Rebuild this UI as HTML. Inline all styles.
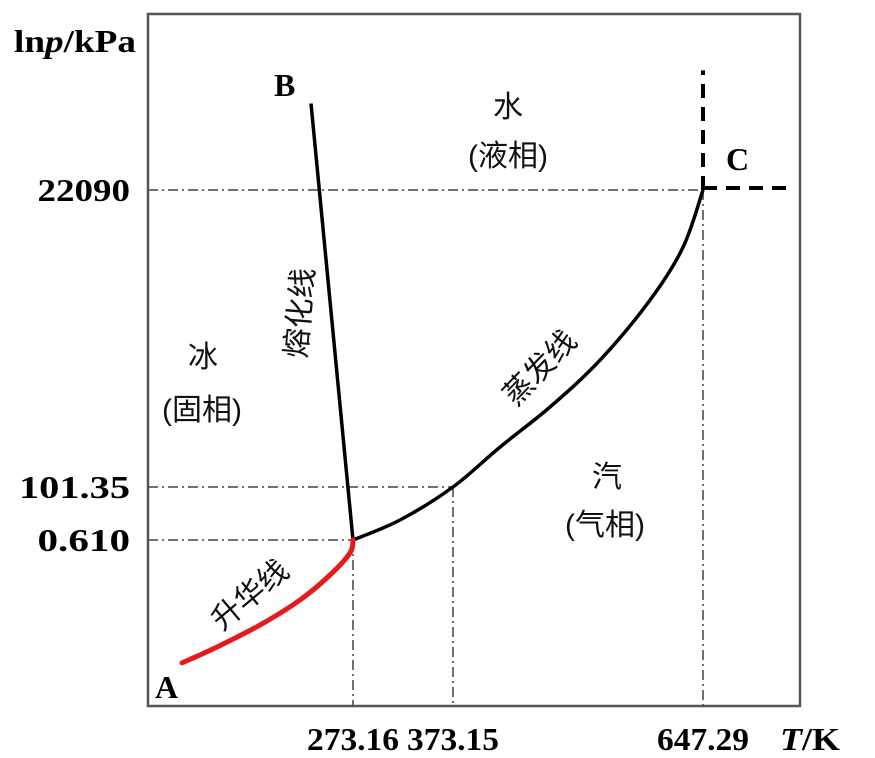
<!DOCTYPE html>
<html><head><meta charset="utf-8"><style>
html,body{margin:0;padding:0;background:#fff;}
svg{display:block;}
.num{font-family:"Liberation Serif",serif;font-weight:bold;font-size:32px;fill:#000;}
.cjk{font-family:"Liberation Sans","Noto Sans CJK SC",sans-serif;font-size:30px;fill:#111;}
</style></head><body>
<svg id="chart" width="875" height="758" viewBox="0 0 875 758">
<rect x="148" y="14" width="652" height="692" fill="none" stroke="#555" stroke-width="2.5"/>
<g id="guides"></g>
<g id="curves"></g>
<g id="ticks"></g>
<text class="num" x="14" y="52" textLength="122" lengthAdjust="spacingAndGlyphs">ln<tspan font-style="italic">p</tspan>/kPa</text>
<text class="num" x="780" y="750" textLength="60" lengthAdjust="spacingAndGlyphs"><tspan font-style="italic">T</tspan>/K</text>
<text class="num" x="274" y="96">B</text>
<text class="num" x="155" y="698">A</text>
<text class="num" x="726" y="170">C</text>
<text class="cjk" x="508" y="117" text-anchor="middle">水</text>
<text class="cjk" x="508" y="166" text-anchor="middle">(液相)</text>
<text class="cjk" x="203" y="367" text-anchor="middle">冰</text>
<text class="cjk" x="202" y="420" text-anchor="middle">(固相)</text>
<text class="cjk" x="607" y="487" text-anchor="middle">汽</text>
<text class="cjk" x="605" y="535" text-anchor="middle">(气相)</text>
<text class="cjk" transform="translate(300,313) rotate(-85)" text-anchor="middle" dy="10">熔化线</text>
<text class="cjk" transform="translate(540,368) rotate(-46)" text-anchor="middle" dy="10">蒸发线</text>
<text class="cjk" transform="translate(250,595) rotate(-40)" text-anchor="middle" dy="10">升华线</text>
</svg>
<script>
const xTickValues=[273.16,373.15,647.29];
const xTickLabels=["273.16","373.15","647.29"];
const yTickValues=[0.610,101.35,22090];
const yTickLabels=["0.610","101.35","22090"];
const sublimationT=[102.2,135.2,180.2,220.2,250.2,270.2,273.16];
const sublimationP=[4.33e-6,1.83e-5,1.68e-4,1.87e-3,0.0209,0.174,0.610];
const vaporizationT=[273.16,320.2,373.15,424.7,479.5,534.4,589.2,625.4,647.29];
const vaporizationP=[0.610,4.20,101.35,209,432,1011,3000,7820,22090];
const meltingT=[273.16,231.2];
const meltingP=[0.610,1.06e5];
const criticalVertP=[22090,1.93e5];
const criticalHorizT=[647.29,746];

const XPX=[353,453,703], YPX=[540,487,190];
function interp(v,vals,px){
  const i=(v>vals[1])?1:0;
  const a=vals[i],b=vals[i+1];
  return px[i]+(v-a)*(px[i+1]-px[i])/(b-a);
}
function xScale(t){ return interp(t,xTickValues,XPX); }
function yScale(p){ return interp(Math.log(p),yTickValues.map(Math.log),YPX); }
const NS="http://www.w3.org/2000/svg";
function mk(tag,attrs,parent){const e=document.createElementNS(NS,tag);for(const k in attrs)e.setAttribute(k,attrs[k]);document.getElementById(parent).appendChild(e);return e;}
function smoothD(T,P){
  const pts=T.map((t,i)=>[xScale(t),yScale(P[i])]);
  let d='M'+pts[0][0].toFixed(1)+','+pts[0][1].toFixed(1);
  for(let i=0;i<pts.length-1;i++){
    const p0=pts[Math.max(0,i-1)],p1=pts[i],p2=pts[i+1],p3=pts[Math.min(pts.length-1,i+2)];
    const c1=[p1[0]+(p2[0]-p0[0])/6,p1[1]+(p2[1]-p0[1])/6];
    const c2=[p2[0]-(p3[0]-p1[0])/6,p2[1]-(p3[1]-p1[1])/6];
    d+=' C'+c1.map(v=>v.toFixed(1)).join(',')+' '+c2.map(v=>v.toFixed(1)).join(',')+' '+p2[0].toFixed(1)+','+p2[1].toFixed(1);
  }
  return d;
}

const gpts=[[xTickValues[0],yTickValues[0]],[xTickValues[1],yTickValues[1]],[xTickValues[2],yTickValues[2]]];
gpts.forEach((g)=>{
  const h=mk('line',{x1:148,y1:yScale(g[1]),x2:xScale(g[0]),y2:yScale(g[1]),stroke:'#444','stroke-width':1.5,'stroke-dasharray':'10,4,2,4'},'guides');
  
  
  const v=mk('line',{x1:xScale(g[0]),y1:yScale(g[1]),x2:xScale(g[0]),y2:706,stroke:'#444','stroke-width':1.5,'stroke-dasharray':'10,4,2,4'},'guides');
  
  
});
const melt=mk('path',{d:smoothD(meltingT,meltingP),fill:'none',stroke:'#000','stroke-width':3.5},'curves');


const vap=mk('path',{d:smoothD(vaporizationT,vaporizationP),fill:'none',stroke:'#000','stroke-width':3.5,'stroke-linejoin':'round'},'curves');


const sub=mk('path',{d:smoothD(sublimationT,sublimationP),fill:'none',stroke:'#e8191c','stroke-width':5,'stroke-linecap':'round','stroke-linejoin':'round'},'curves');


const cv=mk('line',{x1:xScale(647.29),y1:yScale(criticalVertP[0]),x2:xScale(647.29),y2:yScale(criticalVertP[1]),stroke:'#000','stroke-width':4,'stroke-dasharray':'14,9'},'curves');


const ch=mk('line',{x1:xScale(criticalHorizT[0]),y1:yScale(22090)-2,x2:xScale(criticalHorizT[1]),y2:yScale(22090)-2,stroke:'#000','stroke-width':4,'stroke-dasharray':'14,9'},'curves');


xTickValues.forEach((t,i)=>{
  const e=mk('text',{x:xScale(t),y:750,'text-anchor':'middle','class':'num',textLength:92,lengthAdjust:'spacingAndGlyphs'},'ticks');
  e.textContent=xTickLabels[i];
  
  
});
yTickValues.forEach((p,i)=>{
  const e=mk('text',{x:130,y:yScale(p)+11,'text-anchor':'end','class':'num',textLength:yTickLabels[i].length*18.5,lengthAdjust:'spacingAndGlyphs'},'ticks');
  e.textContent=yTickLabels[i];
  
  
});
</script>
</body></html>
